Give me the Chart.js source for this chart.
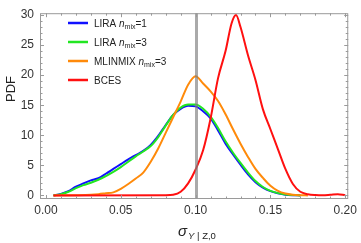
<!DOCTYPE html>
<html>
<head>
<meta charset="utf-8">
<script src="https://cdn.jsdelivr.net/npm/chart.js@4.4.1/dist/chart.umd.min.js"></script>
<style>
  html, body { margin: 0; padding: 0; background: #fff; }
</style>
</head>
<body>
<canvas id="pdfChart" width="361" height="243"></canvas>
<script>
// ── Data ────────────────────────────────────────────
const liraSigma = [0.005, 0.010, 0.015, 0.020, 0.025, 0.030, 0.035, 0.040, 0.045, 0.050,
                   0.055, 0.060, 0.065, 0.070, 0.075, 0.080, 0.085, 0.090, 0.095, 0.100,
                   0.105, 0.110, 0.115, 0.120, 0.125, 0.130, 0.135, 0.140, 0.145, 0.150,
                   0.155, 0.160, 0.165, 0.170];
const liraMix1Pdf = [0, 0.25, 0.7, 1.45, 2.0, 2.5, 2.85, 3.6, 4.4, 5.2,
                     6.0, 6.7, 7.4, 8.4, 9.9, 11.7, 13.4, 14.4, 14.9, 14.8,
                     14.0, 12.8, 10.8, 8.6, 6.8, 5.1, 3.5, 2.2, 1.3, 0.7,
                     0.35, 0.12, 0.03, 0];
const liraMix3Pdf = [0, 0.2, 0.6, 1.2, 1.7, 2.1, 2.6, 3.2, 3.9, 4.7,
                     5.6, 6.5, 7.3, 8.2, 9.7, 11.6, 13.4, 14.6, 15.1, 15.1,
                     14.4, 13.1, 11.2, 9.0, 7.1, 5.4, 3.8, 2.4, 1.4, 0.75,
                     0.38, 0.15, 0.05, 0];

const mlinmixSigma = [0.005, 0.020, 0.030, 0.035, 0.040, 0.045, 0.050, 0.055, 0.060, 0.065,
                      0.070, 0.075, 0.080, 0.085, 0.090, 0.095, 0.100, 0.105, 0.110, 0.115,
                      0.120, 0.125, 0.130, 0.135, 0.140, 0.145, 0.150, 0.155, 0.160, 0.165,
                      0.170, 0.175];
const mlinmixPdf = [0, 0.03, 0.1, 0.2, 0.35, 0.5, 1.1, 1.9, 2.8, 3.8,
                    5.6, 7.8, 10.4, 13.0, 15.6, 18.4, 19.8, 18.6, 17.3, 15.7,
                    13.5, 11.0, 8.6, 6.4, 4.4, 2.9, 1.6, 0.75, 0.3, 0.1,
                    0.03, 0];

const bcesSigma = [0.005, 0.080, 0.085, 0.090, 0.095, 0.100, 0.105, 0.110, 0.115, 0.120,
                   0.124, 0.127, 0.130, 0.135, 0.140, 0.145, 0.150, 0.155, 0.160, 0.165,
                   0.170, 0.175, 0.180, 0.185, 0.190, 0.195, 0.200];
const bcesPdf = [0, 0.02, 0.1, 0.6, 2.0, 4.3, 7.5, 12.8, 19.5, 24.0,
                 28.6, 30.0, 28.0, 23.3, 19.2, 14.3, 11.0, 7.7, 4.4, 1.9,
                 0.6, 0.2, 0.06, 0.02, 0.1, 0.2, 0.03];

const xTickValues = [0, 0.05, 0.10, 0.15, 0.20];
const yTickValues = [0, 5, 10, 15, 20, 25, 30];
const trueSigma = 0.10;

const FONT = '"Liberation Sans", Arial, sans-serif';
const FRAME = '#9a9a9a';

const series = [
    { name: 'LIRA ', sub: '=1', xs: liraSigma, ys: liraMix1Pdf, color: '#1010ff', order: 4 },
    { name: 'LIRA ', sub: '=3', xs: liraSigma, ys: liraMix3Pdf, color: '#22e622', order: 3 },
    { name: 'MLINMIX ', sub: '=3', xs: mlinmixSigma, ys: mlinmixPdf, color: '#ff8a0a', order: 2 },
    { name: 'BCES', sub: null, xs: bcesSigma, ys: bcesPdf, color: '#ff1010', order: 1 }
];

const pts = (xs, ys) => xs.map((x, i) => ({ x, y: ys[i] }));

// ── Frame, inward ticks, reference line, legend, titles ─────
const framePlugin = {
    id: 'framePlugin',
    afterDatasetsDraw(chart) {
        const { ctx, chartArea: a, scales: { x, y } } = chart;
        ctx.save();

        // vertical line at the true value
        const xr = Math.round(x.getPixelForValue(trueSigma)) + 0.5;
        ctx.strokeStyle = 'rgba(125,125,125,0.65)';
        ctx.lineWidth = 3;
        ctx.beginPath(); ctx.moveTo(xr, a.top); ctx.lineTo(xr, a.bottom); ctx.stroke();

        // frame
        ctx.strokeStyle = FRAME;
        ctx.lineWidth = 1;
        ctx.strokeRect(a.left + 0.5, a.top + 0.5, a.right - a.left - 1, a.bottom - a.top - 1);

        // x ticks (bottom & top)
        ctx.beginPath();
        for (let i = 0; i <= 20; i++) {
            const v = i * 0.01;
            const px = Math.round(x.getPixelForValue(v)) + 0.5;
            const len = i % 5 === 0 ? 4 : 2.5;
            ctx.moveTo(px, a.bottom); ctx.lineTo(px, a.bottom - len);
            ctx.moveTo(px, a.top); ctx.lineTo(px, a.top + len);
        }
        // y ticks (left & right)
        for (let v = 0; v <= 30; v++) {
            const py = Math.round(y.getPixelForValue(v)) + 0.5;
            const len = v % 5 === 0 ? 4 : 2.5;
            ctx.moveTo(a.left, py); ctx.lineTo(a.left + len, py);
            ctx.moveTo(a.right, py); ctx.lineTo(a.right - len, py);
        }
        ctx.stroke();

        // legend
        const rowY = [23, 42, 61, 80];
        ctx.textBaseline = 'alphabetic';
        series.forEach((s, i) => {
            const ly = rowY[i];
            ctx.strokeStyle = s.color;
            ctx.lineWidth = 2.5;
            ctx.beginPath(); ctx.moveTo(68, ly); ctx.lineTo(88, ly); ctx.stroke();

            ctx.fillStyle = '#222';
            let tx = 94;
            const base = ly + 3.5;
            ctx.font = '10px ' + FONT;
            ctx.fillText(s.name, tx, base);
            tx += ctx.measureText(s.name).width;
            if (s.sub) {
                ctx.font = 'italic 10px ' + FONT;
                ctx.fillText('n', tx, base);
                tx += ctx.measureText('n').width;
                ctx.font = '7px ' + FONT;
                ctx.fillText('mix', tx, base + 2);
                tx += ctx.measureText('mix').width;
                ctx.font = '10px ' + FONT;
                ctx.fillText(s.sub, tx, base);
            }
        });

        // y title
        ctx.fillStyle = '#222';
        ctx.font = '13px ' + FONT;
        ctx.textAlign = 'center';
        ctx.save();
        ctx.translate(15, 89);
        ctx.rotate(-Math.PI / 2);
        ctx.fillText('PDF', 0, 0);
        ctx.restore();

        // x title: sigma_{Y | Z,0}
        ctx.textAlign = 'left';
        let tx = 178;
        ctx.font = 'italic 15px ' + FONT;
        ctx.fillText('σ', tx, 236);
        tx += ctx.measureText('σ').width + 1;
        ctx.font = 'italic 9.5px ' + FONT;
        ctx.fillText('Y', tx, 239);
        tx += ctx.measureText('Y').width;
        ctx.font = '9.5px ' + FONT;
        ctx.fillText(' | Z,0', tx, 239);

        ctx.restore();
    }
};

new Chart(document.getElementById('pdfChart'), {
    type: 'line',
    data: {
        datasets: series.map(s => ({
            label: s.name + (s.sub || ''),
            data: pts(s.xs, s.ys),
            borderColor: s.color,
            borderWidth: 2,
            pointRadius: 0,
            fill: false,
            cubicInterpolationMode: 'monotone',
            order: s.order
        }))
    },
    options: {
        responsive: false,
        devicePixelRatio: 1,
        animation: false,
        layout: { padding: { top: 5, right: 8, left: 0, bottom: 0 } },
        plugins: { legend: { display: false }, tooltip: { enabled: false } },
        scales: {
            x: {
                type: 'linear',
                min: -0.004,
                max: 0.202,
                grid: { display: false, drawTicks: false },
                border: { display: false },
                afterBuildTicks: s => { s.ticks = xTickValues.map(v => ({ value: v })); },
                afterFit: s => { s.height = 44; },
                ticks: {
                    autoSkip: false,
                    maxRotation: 0,
                    padding: 4,
                    color: '#333',
                    font: { family: FONT, size: 12 },
                    callback: v => Number(v).toFixed(2)
                }
            },
            y: {
                type: 'linear',
                min: -0.6,
                max: 30.3,
                grid: { display: false, drawTicks: false },
                border: { display: false },
                afterBuildTicks: s => { s.ticks = yTickValues.map(v => ({ value: v })); },
                afterFit: s => { s.width = 40; },
                ticks: {
                    padding: 6,
                    color: '#333',
                    font: { family: FONT, size: 12 },
                    callback: v => String(v)
                }
            }
        }
    },
    plugins: [framePlugin]
});
</script>
</body>
</html>
